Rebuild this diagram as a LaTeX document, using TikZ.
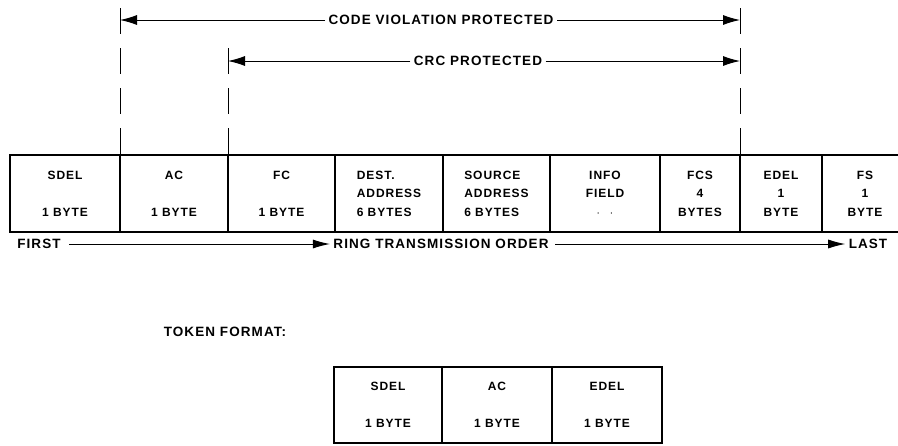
\documentclass[tikz,border=0pt]{standalone}
\usepackage{fontspec}
\newfontfamily\framefont{Liberation Sans}[LetterSpace=8]
\usetikzlibrary{arrows.meta,positioning}

\begin{document}
\begin{tikzpicture}[x=1pt,y=-1pt,
    every node/.style={font=\framefont\bfseries\fontsize{12}{18.5}\selectfont},
    label/.style={font=\framefont\bfseries\fontsize{13.5}{16}\selectfont},
    field/.style={draw,line width=1.2pt,minimum height=77pt,inner sep=0pt,outer sep=0pt,align=center},
    guide/.style={line width=1pt,dash pattern=on 26pt off 14pt},
    span/.style={line width=0.9pt,-{Latex[length=17pt,width=10pt]}},
    order/.style={line width=0.9pt,-{Latex[length=17pt,width=9pt]}}]
  \useasboundingbox (0,0) rectangle (898,445);
  % frame format
  \node[field,minimum width=110pt,anchor=north west] (sdel) at (10,155) {SDEL\\~\\1 BYTE};
  \node[field,minimum width=108pt,right=0pt of sdel] (ac) {AC\\~\\1 BYTE};
  \node[field,minimum width=107pt,right=0pt of ac] (fc) {FC\\~\\1 BYTE};
  \node[field,minimum width=108pt,right=0pt of fc,align=left] (dest) {DEST.\\ADDRESS\\6 BYTES};
  \node[field,minimum width=107pt,right=0pt of dest,align=left] (src) {SOURCE\\ADDRESS\\6 BYTES};
  \node[field,minimum width=110pt,right=0pt of src] (info) {INFO\\FIELD\\$\cdot$\hspace{10pt}$\cdot$};
  \node[field,minimum width=80pt,right=0pt of info] (fcs) {FCS\\4\\BYTES};
  \node[field,minimum width=82pt,right=0pt of fcs] (edel) {EDEL\\1\\BYTE};
  \node[field,minimum width=86pt,right=0pt of edel] (fs) {FS\\1\\BYTE};
  % protected spans
  \node[label] (cvp) at (441,20) {CODE VIOLATION PROTECTED};
  \node[label] (crc) at (478,61) {CRC PROTECTED};
  \coordinate (cvl) at (120,8);
  \coordinate (cvr) at (740,8);
  \coordinate (crcl) at (228,48);
  \draw[guide] (cvl) -- (ac.north west);
  \draw[guide] (crcl) -- (fc.north west);
  \draw[guide] (cvr) -- (edel.north west);
  \draw[span] (cvp.west) -- (cvp.west -| ac.west);
  \draw[span] (cvp.east) -- (cvp.east -| edel.west);
  \draw[span] (crc.west) -- (crc.west -| fc.west);
  \draw[span] (crc.east) -- (crc.east -| edel.west);
  % transmission order
  \node[label] (first) at (39,244) {FIRST};
  \node[label] (ring) at (441,244) {RING TRANSMISSION ORDER};
  \node[label] (last) at (868,244) {LAST};
  \draw[order,shorten <=5pt] (first) -- (ring);
  \draw[order,shorten <=3pt] (ring) -- (last);
  % token
  \node[label] (tok) at (225,332) {TOKEN FORMAT:};
  \node[field,minimum width=108pt,minimum height=76pt,anchor=north west] (tsdel) at (334,367) {SDEL\\~\\1 BYTE};
  \node[field,minimum width=110pt,minimum height=76pt,right=0pt of tsdel] (tac) {AC\\~\\1 BYTE};
  \node[field,minimum width=110pt,minimum height=76pt,right=0pt of tac] (tedel) {EDEL\\~\\1 BYTE};
\end{tikzpicture}
\end{document}
